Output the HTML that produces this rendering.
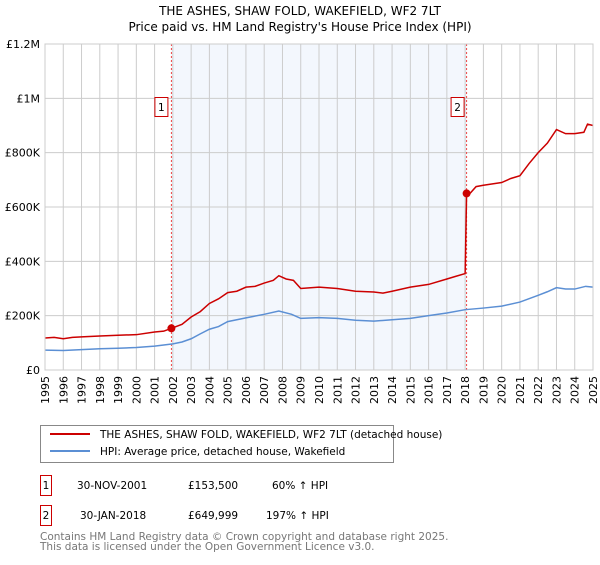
<!DOCTYPE html>
<html><head><meta charset="utf-8"><style>
body{margin:0;background:#fff;font-family:"Liberation Sans","DejaVu Sans",sans-serif;}
svg text{font-family:"DejaVu Sans","Liberation Sans",sans-serif;}
</style></head><body>
<svg id="c" width="600" height="560" xmlns="http://www.w3.org/2000/svg">
<text x="300" y="15" text-anchor="middle" font-size="12">THE ASHES, SHAW FOLD, WAKEFIELD, WF2 7LT</text>
<text x="300" y="31" text-anchor="middle" font-size="12">Price paid vs. HM Land Registry's House Price Index (HPI)</text>
<g id="plot"></g>
<g>
<rect x="40.5" y="425.5" width="353" height="37" fill="#fff" stroke="#888"/>
<line x1="50" y1="434" x2="90" y2="434" stroke="#cc0000" stroke-width="2"/>
<text x="100" y="438" font-size="10.5">THE ASHES, SHAW FOLD, WAKEFIELD, WF2 7LT (detached house)</text>
<line x1="50" y1="451" x2="90" y2="451" stroke="#5b8fd4" stroke-width="2"/>
<text x="100" y="455" font-size="10.5">HPI: Average price, detached house, Wakefield</text>
</g>
<g font-size="10.5">
<rect x="40.5" y="475.5" width="11" height="20" fill="#fff" stroke="#cc0000"/>
<text x="46" y="489" text-anchor="middle">1</text>
<text x="77" y="489">30-NOV-2001</text><text x="188" y="489">£153,500</text><text x="272" y="489">60% ↑ HPI</text>
<rect x="40.5" y="505.5" width="11" height="20" fill="#fff" stroke="#cc0000"/>
<text x="46" y="519" text-anchor="middle">2</text>
<text x="80" y="519">30-JAN-2018</text><text x="188" y="519">£649,999</text><text x="266" y="519">197% ↑ HPI</text>
</g>
<text x="40" y="540" font-size="10.5" fill="#777">Contains HM Land Registry data © Crown copyright and database right 2025.</text>
<text x="40" y="550" font-size="10.5" fill="#777">This data is licensed under the Open Government Licence v3.0.</text>
</svg>
<script>
const yearTicks=[1995,1996,1997,1998,1999,2000,2001,2002,2003,2004,2005,2006,2007,2008,2009,2010,2011,2012,2013,2014,2015,2016,2017,2018,2019,2020,2021,2022,2023,2024,2025];
const yTicks=[0,200000,400000,600000,800000,1000000,1200000];
const yTickLabels=["£0","£200K","£400K","£600K","£800K","£1M","£1.2M"];
const propT=[1995,1995.5,1996,1996.5,1997,1998,1999,2000,2001,2001.5,2001.92,2002.5,2003,2003.5,2004,2004.5,2005,2005.5,2006,2006.5,2007,2007.5,2007.8,2008.2,2008.6,2009,2010,2011,2012,2013,2013.5,2014,2015,2016,2017,2017.5,2018.0,2018.08,2018.2,2018.6,2019,2019.5,2020,2020.5,2021,2021.5,2022,2022.5,2023,2023.5,2024,2024.5,2024.7,2025];
const propV=[118000,120000,115000,120000,122000,125000,128000,130000,140000,143000,153500,168000,195000,215000,245000,262000,285000,290000,305000,308000,320000,330000,347000,335000,330000,300000,305000,300000,290000,287000,283000,290000,305000,315000,335000,345000,355000,649999,645000,675000,680000,685000,690000,705000,715000,760000,800000,835000,885000,870000,870000,875000,905000,900000];
const saleT=[2001.92,2018.08];
const saleV=[153500,649999];
const hpiT=[1995,1996,1997,1998,1999,2000,2001,2002,2002.5,2003,2003.5,2004,2004.5,2005,2006,2007,2007.8,2008.5,2009,2010,2011,2012,2013,2014,2015,2016,2017,2018,2019,2020,2021,2022,2022.5,2023,2023.5,2024,2024.6,2025];
const hpiV=[73000,72000,75000,78000,80000,83000,88000,96000,103000,115000,133000,150000,160000,178000,192000,205000,217000,205000,190000,193000,190000,183000,180000,185000,190000,200000,210000,222000,228000,235000,250000,275000,288000,303000,298000,298000,308000,305000];
const L=45,R=593,T=44,B=370;
const x=t=>L+(t-1995)/30*(R-L);
const y=v=>B-v/1200000*(B-T);
const g=document.getElementById('plot');
const NS='http://www.w3.org/2000/svg';
function mk(tag,a){const e=document.createElementNS(NS,tag);for(const k in a)e.setAttribute(k,a[k]);g.appendChild(e);return e;}
const sh=mk('rect',{x:x(saleT[0]),y:T,width:x(saleT[1])-x(saleT[0]),height:B-T,fill:'#eef3fc',opacity:0.7});


yearTicks.forEach(t=>{const l=mk('line',{x1:x(t),x2:x(t),y1:T,y2:B,stroke:'#ccc'});


const tx=mk('text',{x:0,y:0,'font-size':11,'text-anchor':'end',transform:`translate(${x(t)+4},${B+6}) rotate(-90)`});tx.textContent=t;

});
yTicks.forEach((v,i)=>{const l=mk('line',{x1:L,x2:R,y1:y(v),y2:y(v),stroke:'#ccc'});


const tx=mk('text',{x:L-5,y:y(v)+4,'font-size':11,'text-anchor':'end'});tx.textContent=yTickLabels[i];

});
saleT.forEach((t,i)=>{const l=mk('line',{x1:x(t),x2:x(t),y1:T,y2:B,stroke:'#e44','stroke-dasharray':'2,2'});


const r=mk('rect',{x:x(t)-16.5+(i?1:0),y:97.5,width:13,height:19,fill:'#fff',stroke:'#cc0000'});


const tx=mk('text',{x:x(t)-10+(i?1:0),y:111,'font-size':10.5,'text-anchor':'middle'});tx.textContent=i+1;

});
const hp=mk('polyline',{points:hpiT.map((t,i)=>x(t)+','+y(hpiV[i])).join(' '),fill:'none',stroke:'#5b8fd4','stroke-width':1.5});


const pp=mk('polyline',{points:propT.map((t,i)=>x(t)+','+y(propV[i])).join(' '),fill:'none',stroke:'#cc0000','stroke-width':1.5});


saleT.forEach((t,i)=>{const c=mk('circle',{cx:x(t),cy:y(saleV[i]),r:4,fill:'#cc0000'});

});
const fr=mk('rect',{x:L,y:T,width:R-L,height:B-T,fill:'none',stroke:'#ccc'});


</script>
</body></html>
